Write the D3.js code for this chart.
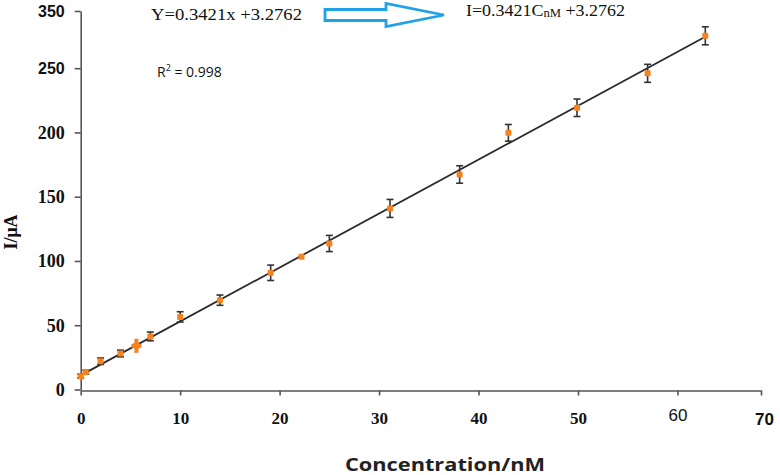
<!DOCTYPE html>
<html><head><meta charset="utf-8">
<script src="https://cdn.jsdelivr.net/npm/d3@7"></script>
<style>body{margin:0;background:#fff}svg{display:block}</style>
</head><body>
<script>
// ---- data ----
const conc    = [0, 0.5, 2, 4, 5.6, 7, 10, 14, 19.1, 22.2, 25, 31.1, 38.1, 43, 49.9, 57, 62.8];
const current = [10.4, 13.5, 22, 28, 34, 41.3, 56.5, 69.5, 90.8, 103.2, 113.6, 140.9, 167.3, 199.7, 219.2, 246, 275.2];
const errI    = [1.5, 1.5, 2.5, 2.6, 5.5, 3.4, 4, 4, 6, 0, 6.3, 7, 6.8, 6.5, 6.8, 7, 7];
const errC    = [0, 0, 0, 0, 0.5, 0, 0, 0, 0, 0, 0, 0, 0, 0, 0, 0, 0];
const fitX    = [0, 62.8];
const fitY    = [11, 274.5];
const xTicks  = [0, 10, 20, 30, 40, 50, 60, 68.4];
const xLabels = ["0", "10", "20", "30", "40", "50", "60", "70"];
const yTicks  = [0, 50, 100, 150, 200, 250, 294.5];
const yLabels = ["0", "50", "100", "150", "200", "250", "350"];

const W = 780, H = 475;
const svg = d3.select("body").append("svg").attr("width", W).attr("height", H);

const x = d3.scaleLinear().domain([0, 68.4]).range([80.7, 761]);
const y = d3.scaleLinear().domain([0, 294.5]).range([389.5, 11]);

const axisColor = "#555";
const serif = "'Liberation Serif', 'Times New Roman', serif";
const sans = "'Liberation Sans', Arial, sans-serif";

// x axis
const gx = svg.append("g").attr("transform", `translate(0,${y(0) + 1})`)
  .call(d3.axisBottom(x).tickValues(xTicks).tickSize(5).tickSizeOuter(0).tickFormat((d, i) => xLabels[i]));
gx.select(".domain").attr("stroke", axisColor).attr("stroke-width", 1.6);
gx.selectAll(".tick line").attr("stroke", axisColor).attr("stroke-width", 1.6);
gx.selectAll(".tick text").attr("font-family", serif).attr("font-weight", "bold")
  .attr("font-size", 17).attr("fill", "#111").attr("y", 21).attr("dy", "0.71em");
gx.selectAll(".tick text").filter((d, i) => i === 6).attr("font-family", sans).attr("font-weight", "normal").attr("y", 18);
gx.selectAll(".tick text").filter((d, i) => i === 7).attr("font-family", sans).attr("font-size", 17).attr("y", 22).attr("dx", 3);

// y axis
const gy = svg.append("g").attr("transform", `translate(${x(0)},0)`)
  .call(d3.axisLeft(y).tickValues(yTicks).tickSize(6).tickSizeOuter(0).tickFormat((d, i) => yLabels[i]));
gy.select(".domain").attr("stroke", axisColor).attr("stroke-width", 1.6);
gy.selectAll(".tick line").attr("stroke", axisColor).attr("stroke-width", 1.6);
gy.selectAll(".tick text").attr("font-family", serif).attr("font-weight", "bold")
  .attr("font-size", 18).attr("fill", "#111").attr("x", -16);
gy.selectAll(".tick text").filter((d, i) => i >= 5).attr("font-family", sans).attr("font-size", 16);

// fit line
svg.append("path")
  .datum(fitX.map((v, i) => [v, fitY[i]]))
  .attr("d", d3.line().x(d => x(d[0])).y(d => y(d[1])))
  .attr("stroke", "#2a2a2a").attr("stroke-width", 1.8).attr("fill", "none");

const pts = conc.map((c, i) => ({c, v: current[i], e: errI[i], ec: errC[i]}));

// error bars
const eb = svg.append("g");
pts.filter(d => d.e > 0).forEach(d => {
  const col = d.ec > 0 ? "#f5821f" : "#333";
  const sw = d.ec > 0 ? 4 : 1.6;
  eb.append("line").attr("x1", x(d.c)).attr("x2", x(d.c)).attr("y1", y(d.v - d.e)).attr("y2", y(d.v + d.e))
    .attr("stroke", col).attr("stroke-width", sw);
  if (d.ec > 0) {
    eb.append("line").attr("x1", x(d.c - d.ec)).attr("x2", x(d.c + d.ec)).attr("y1", y(d.v)).attr("y2", y(d.v))
      .attr("stroke", col).attr("stroke-width", 4);
  } else {
    [d.v - d.e, d.v + d.e].forEach(v => {
      eb.append("line").attr("x1", x(d.c) - 3.5).attr("x2", x(d.c) + 3.5).attr("y1", y(v)).attr("y2", y(v))
        .attr("stroke", col).attr("stroke-width", 1.6);
    });
  }
});

// points
svg.append("g").selectAll("rect").data(pts).join("rect")
  .attr("x", d => x(d.c) - 3).attr("y", d => y(d.v) - 3)
  .attr("width", 6).attr("height", 6).attr("rx", 1.2).attr("fill", "#f5821f");

// annotations
svg.append("text").attr("x", 151).attr("y", 20).attr("font-family", serif).attr("font-size", 17)
  .attr("textLength", 151).attr("lengthAdjust", "spacingAndGlyphs").attr("fill", "#111")
  .text("Y=0.3421x +3.2762");

const r2 = svg.append("text").attr("x", 157).attr("y", 77).attr("font-family", "'Open Sans', sans-serif").attr("font-size", 14).attr("fill", "#111");
r2.append("tspan").text("R");
r2.append("tspan").attr("font-size", 9).attr("dy", -6).text("2");
r2.append("tspan").attr("dy", 6).text(" = 0.998");

const eq2 = svg.append("text").attr("x", 466).attr("y", 16).attr("font-family", serif).attr("font-size", 17)
  .attr("textLength", 159).attr("lengthAdjust", "spacingAndGlyphs").attr("fill", "#111");
eq2.append("tspan").text("I=0.3421C");
eq2.append("tspan").attr("font-size", 12).attr("dy", 1).text("nM");
eq2.append("tspan").attr("dy", -1).text(" +3.2762");

// hollow arrow
svg.append("polygon")
  .attr("points", "325,9.5 386,9.5 386,3.5 444,15 386,26.5 386,20.5 325,20.5")
  .attr("fill", "#fff").attr("stroke", "#1fa1e6").attr("stroke-width", 2.8).attr("stroke-linejoin", "miter");

// axis titles
svg.append("text").attr("transform", "translate(17,232) rotate(-90)")
  .attr("text-anchor", "middle").attr("font-family", serif).attr("font-weight", "bold")
  .attr("font-size", 18).attr("fill", "#111").text("I/μA");

svg.append("text").attr("x", 445).attr("y", 471).attr("text-anchor", "middle")
  .attr("font-family", "'Open Sans', sans-serif").attr("font-weight", "bold").attr("font-size", 17)
  .attr("textLength", 200).attr("lengthAdjust", "spacingAndGlyphs")
  .attr("fill", "#222").text("Concentration/nM");
</script>
</body></html>
